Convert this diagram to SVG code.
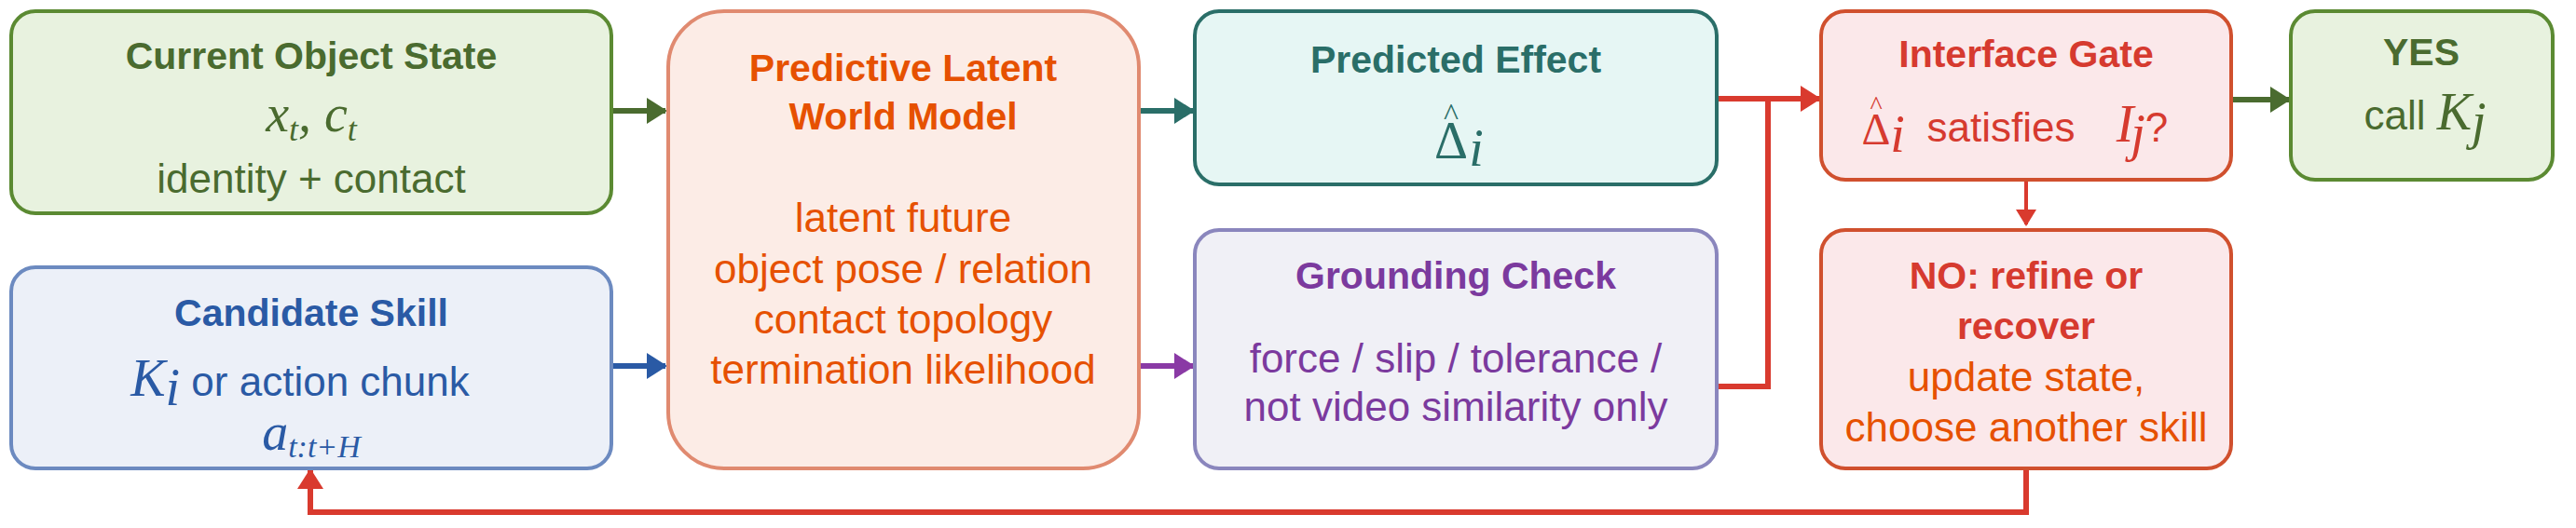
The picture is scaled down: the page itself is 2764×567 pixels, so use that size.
<svg xmlns="http://www.w3.org/2000/svg" width="2764" height="567" viewBox="0 0 2764 567">
<style>
text{font-family:"Liberation Sans",Arial,sans-serif;text-anchor:middle}
.t{font-weight:bold;font-size:41px}
.b{font-size:44px}
.m{font-family:"Liberation Serif","DejaVu Serif",serif;font-style:italic;font-size:56px}
.u{font-family:"Liberation Serif","DejaVu Serif",serif;font-style:normal}
.box{stroke-width:4}
</style>
<defs>
<marker id="ag" markerWidth="22" markerHeight="28" refX="20" refY="14" orient="auto" markerUnits="userSpaceOnUse"><path d="M0,0L22,14L0,28z" fill="#4a6b2f"/></marker>
<marker id="ab" markerWidth="22" markerHeight="28" refX="20" refY="14" orient="auto" markerUnits="userSpaceOnUse"><path d="M0,0L22,14L0,28z" fill="#2a5aa5"/></marker>
<marker id="at" markerWidth="22" markerHeight="28" refX="20" refY="14" orient="auto" markerUnits="userSpaceOnUse"><path d="M0,0L22,14L0,28z" fill="#2a6e68"/></marker>
<marker id="ap" markerWidth="22" markerHeight="28" refX="20" refY="14" orient="auto" markerUnits="userSpaceOnUse"><path d="M0,0L22,14L0,28z" fill="#8a3aa5"/></marker>
<marker id="ar" markerWidth="22" markerHeight="28" refX="20" refY="14" orient="auto" markerUnits="userSpaceOnUse"><path d="M0,0L22,14L0,28z" fill="#d93a2e"/></marker>
<marker id="ar2" markerWidth="18" markerHeight="22" refX="16" refY="11" orient="auto" markerUnits="userSpaceOnUse"><path d="M0,0L18,11L0,22z" fill="#d93a2e"/></marker>
</defs>
<g id="connectors" fill="none" stroke-width="6">
<path d="M656,119H714" stroke="#4a6b2f" marker-end="url(#ag)"/>
<path d="M656,393H714" stroke="#2a5aa5" marker-end="url(#ab)"/>
<path d="M1222,119H1280" stroke="#2a6e68" marker-end="url(#at)"/>
<path d="M1222,393H1280" stroke="#8a3aa5" marker-end="url(#ap)"/>
<path d="M1842,106H1952" stroke="#d93a2e" marker-end="url(#ar)"/>
<path d="M1842,415H1897V106" stroke="#d93a2e"/>
<path d="M2394,107H2456" stroke="#4a6b2f" marker-end="url(#ag)"/>
<path d="M2174,193V241" stroke="#d93a2e" stroke-width="4" marker-end="url(#ar2)"/>
<path d="M2174,503V550H333V505" stroke="#d93a2e" marker-end="url(#ar)"/>
</g>
<g id="current">
<rect class="box" x="12" y="12" width="644" height="217" rx="26" fill="#e8f2df" stroke="#5b8a32"/>
<text class="t" x="334" y="74" fill="#4a6b2f">Current Object State</text>
<text class="m" x="334" y="141" fill="#4a6b2f">x<tspan font-size="36" dy="10">t</tspan><tspan dy="-10">, c</tspan><tspan font-size="36" dy="10">t</tspan></text>
<text class="b" x="334" y="207" fill="#4a6b2f">identity + contact</text>
</g>
<g id="candidate">
<rect class="box" x="12" y="287" width="644" height="216" rx="26" fill="#ecf0f8" stroke="#6c8ac0"/>
<text class="t" x="334" y="350" fill="#2a5aa5">Candidate Skill</text>
<text x="322" y="425" fill="#2a5aa5"><tspan class="m" font-size="60">K</tspan><tspan class="m" font-size="36" dy="10">i</tspan><tspan class="b" dy="-10"> or action chunk</tspan></text>
<text class="m" x="334" y="483" font-size="44" fill="#2a5aa5">a<tspan font-size="34" dy="8">t:t+H</tspan></text>
</g>
<g id="predictive">
<rect class="box" x="717" y="12" width="505" height="491" rx="60" fill="#fcece6" stroke="#e08a70"/>
<text class="t" x="969" y="87" fill="#e65100">Predictive Latent</text>
<text class="t" x="969" y="139" fill="#e65100">World Model</text>
<text class="b" x="969" y="249" fill="#e65100">latent future</text>
<text class="b" x="969" y="304" fill="#e65100">object pose / relation</text>
<text class="b" x="969" y="358" fill="#e65100">contact topology</text>
<text class="b" x="969" y="412" fill="#e65100">termination likelihood</text>
</g>
<g id="effect">
<rect class="box" x="1282" y="12" width="560" height="186" rx="26" fill="#e6f6f4" stroke="#2a6e68"/>
<text class="t" x="1562" y="78" font-size="46" fill="#2a6e68">Predicted Effect</text>
<text class="u" x="1557" y="170" font-size="56" fill="#2a6e68">Δ</text>
<text class="u" x="1557" y="134" font-size="34" fill="#2a6e68">^</text>
<text class="m" x="1584" y="178" font-size="32" fill="#2a6e68">i</text>
</g>
<g id="grounding">
<rect class="box" x="1282" y="247" width="560" height="256" rx="26" fill="#f0f0f6" stroke="#8a86bd"/>
<text class="t" x="1562" y="310" fill="#7b3a9e">Grounding Check</text>
<text class="b" x="1562" y="400" fill="#7b3a9e">force / slip / tolerance /</text>
<text class="b" x="1562" y="452" fill="#7b3a9e">not video similarity only</text>
</g>
<g id="gate">
<rect class="box" x="1954" y="12" width="440" height="181" rx="26" fill="#fbe8ea" stroke="#d0502e"/>
<text class="t" x="2174" y="72" fill="#d63a2f">Interface Gate</text>
<text class="u" x="2013" y="155" font-size="48" fill="#d63a2f">Δ</text>
<text class="u" x="2013" y="122" font-size="28" fill="#d63a2f">^</text>
<text class="m" x="2036" y="163" font-size="28" fill="#d63a2f">i</text>
<text class="b" x="2147" y="152" fill="#d63a2f">satisfies</text>
<text class="m" x="2280" y="152" font-size="48" fill="#d63a2f">I</text>
<text class="m" x="2294" y="162" font-size="30" fill="#d63a2f">j</text>
<text class="b" x="2314" y="152" fill="#d63a2f">?</text>
</g>
<g id="yes">
<rect class="box" x="2458" y="12" width="281" height="181" rx="26" fill="#e8f2df" stroke="#5b8a32"/>
<text class="t" x="2598" y="70" fill="#4a6b2f">YES</text>
<text x="2602" y="139" fill="#4a6b2f"><tspan class="b">call </tspan><tspan class="m" font-size="60">K</tspan><tspan class="m" font-size="36" dy="10">j</tspan></text>
</g>
<g id="no">
<rect class="box" x="1954" y="247" width="440" height="256" rx="26" fill="#fbe8ea" stroke="#d0502e"/>
<text class="t" x="2174" y="310" fill="#d63a2f">NO: refine or</text>
<text class="t" x="2174" y="364" fill="#d63a2f">recover</text>
<text class="b" x="2174" y="420" fill="#e65100">update state,</text>
<text class="b" x="2174" y="474" fill="#e65100">choose another skill</text>
</g>
</svg>
